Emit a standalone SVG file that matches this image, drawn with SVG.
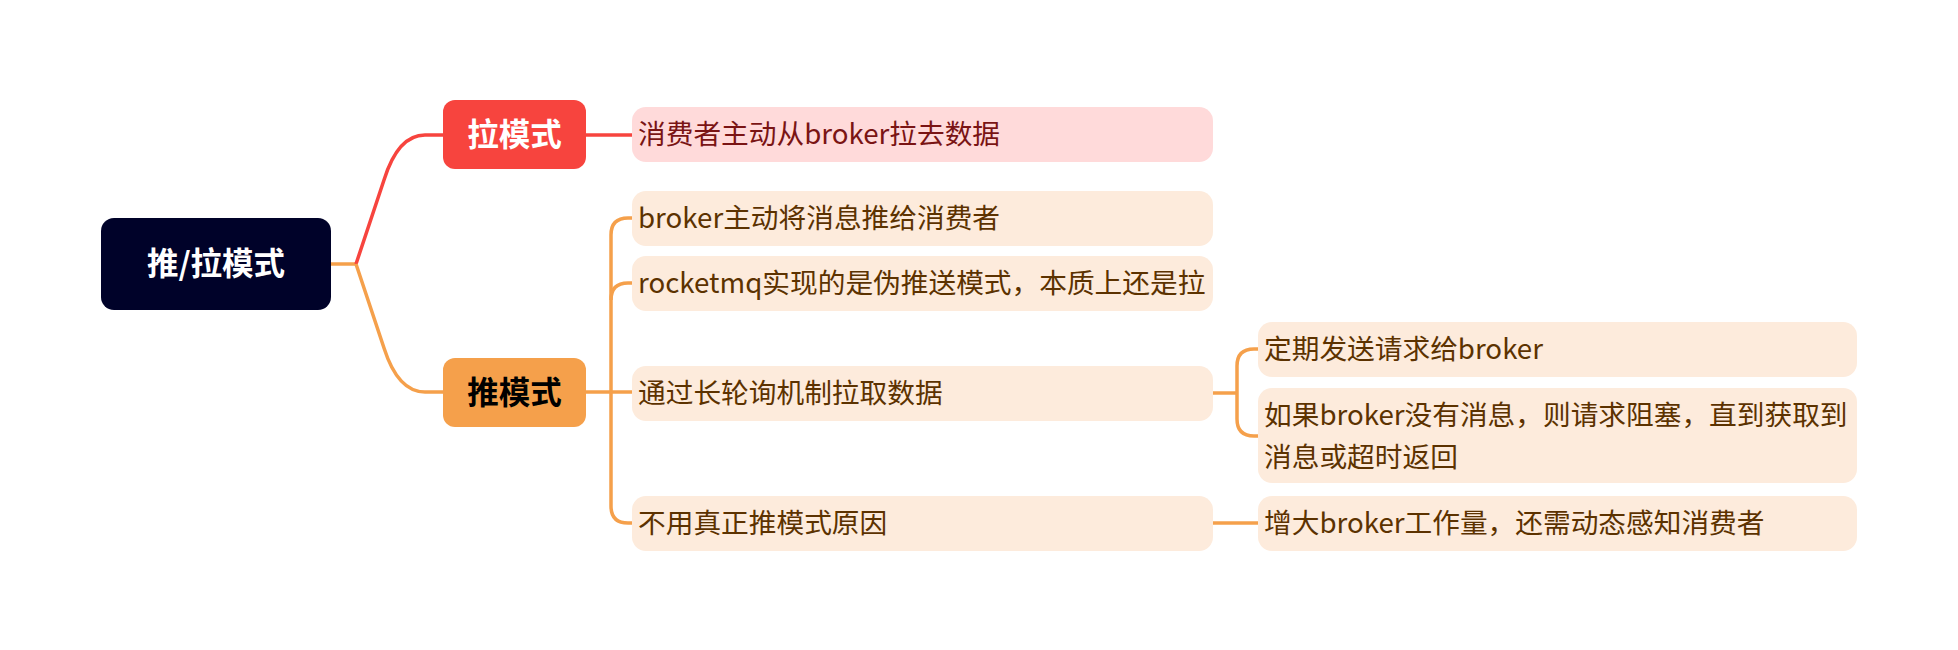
<svg xmlns="http://www.w3.org/2000/svg" width="1958" height="650" viewBox="0 0 1958 650">
<style>
text{font-family:"Noto Sans CJK SC","Noto Sans",sans-serif;}
.leaf{fill:#FDEBDC;}
.lt{font-size:27.7px;fill:#5C3200;}
.pt{font-size:27.7px;fill:#7A1414;}
.main{font-size:31.5px;font-weight:bold;}
.co{fill:none;stroke:#F5A04B;stroke-width:3.5;}
.cr{fill:none;stroke:#F7443E;stroke-width:3.5;}
</style>
<rect width="1958" height="650" fill="#FFFFFF"/>
<g id="connectors">
<path class="co" d="M331,264 H356"/>
<path class="cr" d="M356,264 L384,180 Q398,135 425,135 H443"/>
<path class="co" d="M356,264 L384,348 Q398,392 425,392 H443"/>
<path class="cr" d="M586,135 H632"/>
<path class="co" d="M586,392 H632"/>
<path class="co" d="M632,218 H628 Q611,218 611,235 V506 Q611,523 628,523 H632"/>
<path class="co" d="M632,283 H628 Q611,283 611,300"/>
<path class="co" d="M1213,393 H1237"/>
<path class="co" d="M1258,349 H1254 Q1237,349 1237,366 V419 Q1237,436 1254,436 H1258"/>
<path class="co" d="M1213,523 H1258"/>
</g>
<g id="root">
<rect x="101" y="218" width="230" height="92" rx="13" fill="#000229"/>
<text class="main" x="216" y="275" text-anchor="middle" fill="#FFFFFF">推/拉模式</text>
</g>
<g id="pull">
<rect x="443" y="100" width="143" height="69" rx="12" fill="#F7443E"/>
<text class="main" x="514.5" y="146" text-anchor="middle" fill="#FFFFFF">拉模式</text>
</g>
<g id="push">
<rect x="443" y="358" width="143" height="69" rx="12" fill="#F5A04B"/>
<text class="main" x="514.5" y="404" text-anchor="middle" fill="#000000">推模式</text>
</g>
<g id="pull-1">
<rect x="632" y="107" width="581" height="55" rx="14" fill="#FFDADA"/>
<text class="pt" x="638" y="144">消费者主动从broker拉去数据</text>
</g>
<g id="push-1">
<rect class="leaf" x="632" y="191" width="581" height="55" rx="14"/>
<text class="lt" x="638" y="228">broker主动将消息推给消费者</text>
</g>
<g id="push-2">
<rect class="leaf" x="632" y="256" width="581" height="55" rx="14"/>
<text class="lt" x="638" y="293">rocketmq实现的是伪推送模式，本质上还是拉</text>
</g>
<g id="push-3">
<rect class="leaf" x="632" y="366" width="581" height="55" rx="14"/>
<text class="lt" x="638" y="403">通过长轮询机制拉取数据</text>
</g>
<g id="push-4">
<rect class="leaf" x="632" y="496" width="581" height="55" rx="14"/>
<text class="lt" x="638" y="533">不用真正推模式原因</text>
</g>
<g id="poll-1">
<rect class="leaf" x="1258" y="322" width="599" height="55" rx="14"/>
<text class="lt" x="1264" y="359">定期发送请求给broker</text>
</g>
<g id="poll-2">
<rect class="leaf" x="1258" y="388" width="599" height="95" rx="14"/>
<text class="lt" x="1264" y="425">如果broker没有消息，则请求阻塞，直到获取到</text>
<text class="lt" x="1264" y="467">消息或超时返回</text>
</g>
<g id="reason-1">
<rect class="leaf" x="1258" y="496" width="599" height="55" rx="14"/>
<text class="lt" x="1264" y="533">增大broker工作量，还需动态感知消费者</text>
</g>
</svg>
